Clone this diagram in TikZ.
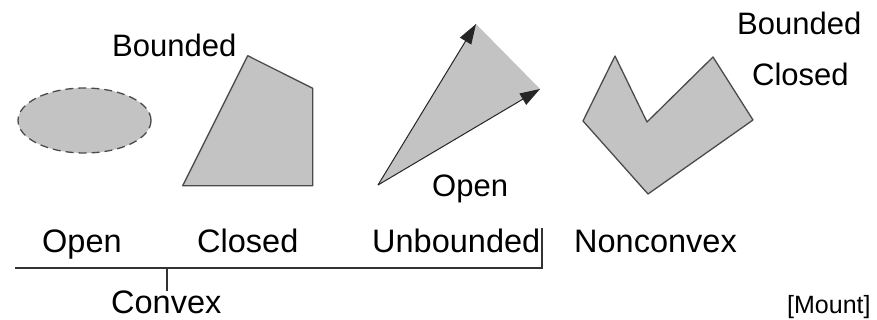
\documentclass[tikz,border=0pt]{standalone}
\usepackage{fontspec}
\setmainfont{Liberation Sans}
\usetikzlibrary{arrows.meta}
\definecolor{shapefill}{RGB}{195,195,195}
\definecolor{shapeedge}{RGB}{75,75,75}
\tikzset{
  region/.style={fill=shapefill, draw=shapeedge, line width=1.3pt, line join=round},
  ray/.style={draw=black!85, line width=1pt, -{Triangle[length=20pt,width=13pt]}},
  toplabel/.style={anchor=base west, inner sep=0pt, font=\fontsize{31}{31}\selectfont},
  rowlabel/.style={anchor=base west, inner sep=0pt, font=\fontsize{32.5}{32.5}\selectfont},
  cite/.style={anchor=base west, inner sep=0pt, font=\fontsize{25}{25}\selectfont},
  bracket/.style={draw=black!80, line width=1.2pt}
}
\begin{document}
\begin{tikzpicture}[x=1pt,y=-1pt]
\path[use as bounding box] (0,0) rectangle (877,320);

% open convex set: dashed ellipse
\draw[region, dashed, dash pattern=on 8pt off 5pt] (84.5,120.5) ellipse [x radius=66.5, y radius=32.5];

% closed bounded convex polygon
\draw[region] (182.7,185.7) -- (247.7,55.7) -- (312.7,88.3) -- (312.7,185.7) -- cycle;

% unbounded cone spanned by two rays
\coordinate (o) at (378,185);
\coordinate (r1) at (476,24);
\coordinate (r2) at (540,89);
\fill[shapefill] (o) -- (r1) -- (r2) -- cycle;
\draw[ray] (o) -- (r1);
\draw[ray] (o) -- (r2);

% nonconvex polygon
\draw[region] (615,56) -- (647,122) -- (713,57) -- (753,120) -- (648,194) -- (583,121) -- cycle;

% labels above the shapes
\node[toplabel] (bnd1) at (112,57) {Bounded};
\node[toplabel] (opn) at (432,197) {Open};
\node[toplabel] (bnd2) at (737,35) {Bounded};
\node[toplabel] (cls) at (752,86) {Closed};

% category row
\node[rowlabel] (lopen) at (42,252) {Open};
\node[rowlabel] (lclosed) at (197,252) {Closed};
\node[rowlabel] (lunb) at (372,252) {Unbounded};
\node[rowlabel] (lnon) at (574,252) {Nonconvex};
\node[rowlabel] (lconv) at (111,313) {Convex};

% grouping bracket for the convex sets
\coordinate (bl) at (15,268);
\coordinate (br) at (542,268);
\coordinate (bt) at (542,228);
\coordinate (bm) at (167,268);
\coordinate (bd) at (167,291);
\draw[bracket] (bl) -- (br) -- (bt);
\draw[bracket] (bm) -- (bd);

\node[cite] (src) at (787,313) {[Mount]};
\end{tikzpicture}
\end{document}
